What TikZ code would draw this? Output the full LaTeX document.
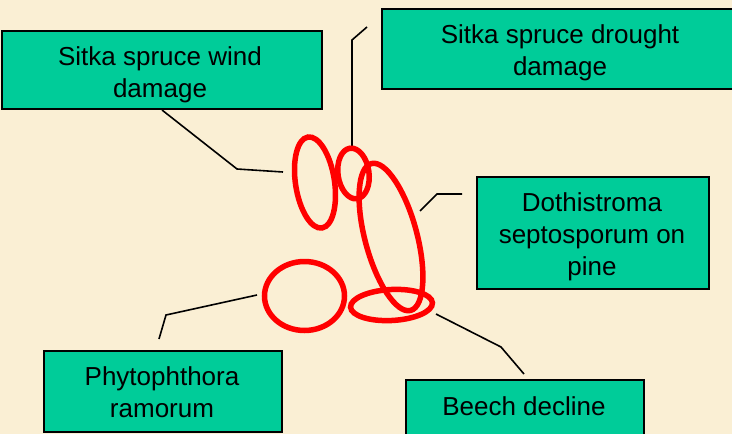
\documentclass[tikz,border=0pt]{standalone}
\usepackage{fontspec}
\setmainfont{Liberation Sans}
\definecolor{bg}{HTML}{FAEFD4}
\definecolor{boxfill}{HTML}{00CC99}
\begin{document}
\begin{tikzpicture}[x=1pt,y=-1pt,
  labelbox/.style={draw=black, line width=1.5pt, fill=boxfill, inner sep=0pt, anchor=north west},
  boxtext/.style={align=center, font=\fontsize{26}{32}\selectfont, inner sep=0pt},
  leader/.style={draw=black, line width=1.6pt},
  ring/.style={draw=red, line width=5.5pt}]
\useasboundingbox (0,0) rectangle (732,434);
\clip (0,0) rectangle (732,434);
\fill[bg] (0,0) rectangle (732,434);

% boxes
\node[labelbox, minimum width=320pt, minimum height=78pt] (windbox) at (1,30) {};
\node[labelbox, minimum width=360pt, minimum height=80pt] (droughtbox) at (381,8) {};
\node[labelbox, minimum width=232pt, minimum height=112pt] (dothbox) at (476,176) {};
\node[labelbox, minimum width=238pt, minimum height=81pt] (phytobox) at (43,350) {};
\node[labelbox, minimum width=238pt, minimum height=70pt] (beechbox) at (405,379) {};

% texts
\node[boxtext] (windtext) at (160,75) {Sitka spruce wind\\damage};
\node[boxtext] (droughttext) at (560,53) {Sitka spruce drought\\damage};
\node[boxtext] (dothtext) at (592,237) {Dothistroma\\septosporum on\\pine};
\node[boxtext] (phytotext) at (162,392.5) {Phytophthora\\ramorum};
\node[boxtext] (beechtext) at (524,406.5) {Beech decline};

% leader points
\coordinate (wA) at (162,110);
\coordinate (wB) at (237,169);
\coordinate (wC) at (283,172);
\coordinate (dA) at (367,27);
\coordinate (dB) at (352,40);
\coordinate (dC) at (352,147);
\coordinate (tA) at (462,194);
\coordinate (tB) at (437,194);
\coordinate (tC) at (420,211);
\coordinate (pA) at (159,339);
\coordinate (pB) at (166,315);
\coordinate (pC) at (257,295);
\coordinate (bA) at (524,374);
\coordinate (bB) at (501,347);
\coordinate (bC) at (436,314);

\draw[leader] (wA) -- (wB) -- (wC);
\draw[leader] (dA) -- (dB) -- (dC);
\draw[leader] (tA) -- (tB) -- (tC);
\draw[leader] (pA) -- (pB) -- (pC);
\draw[leader] (bA) -- (bB) -- (bC);

% rings
\coordinate (e1) at (315,182.5);
\coordinate (e2) at (353.5,173.5);
\coordinate (e3) at (391,237);
\coordinate (e4) at (304.5,296);
\coordinate (e5) at (391.5,305);
\draw[ring, rotate around={8.7:(e1)}] (e1) ellipse [x radius=19.5pt, y radius=46pt];
\draw[ring, rotate around={8:(e2)}] (e2) ellipse [x radius=15.5pt, y radius=25.5pt];
\draw[ring, rotate around={15:(e3)}] (e3) ellipse [x radius=26pt, y radius=76pt];
\draw[ring] (e4) ellipse [x radius=40pt, y radius=34.5pt];
\draw[ring, rotate around={3:(e5)}] (e5) ellipse [x radius=41pt, y radius=15.5pt];
\end{tikzpicture}
\end{document}
